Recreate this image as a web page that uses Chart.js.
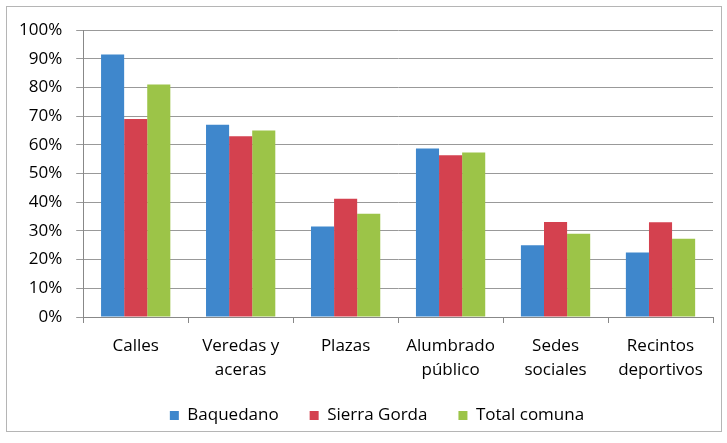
<!DOCTYPE html>
<html>
<head>
<meta charset="utf-8">
<script src="https://cdn.jsdelivr.net/npm/chart.js@4"></script>
<style>
  body { margin: 0; background: #fff; }
  #wrap { position: absolute; left: 0; top: 0; width: 727px; height: 443px; }
  #frame {
    position: absolute; left: 6px; top: 6px;
    width: 714px; height: 424px;
    border: 1px solid #b5b5b5; pointer-events: none;
  }
</style>
</head>
<body>
<div id="wrap"><canvas id="myChart"></canvas></div>
<div id="frame"></div>
<script>
// values (%)
let categories = ['Calles', ['Veredas y', 'aceras'], 'Plazas', ['Alumbrado', 'público'], ['Sedes', 'sociales'], ['Recintos', 'deportivos']];
let baquedano = [91.5, 67, 31.5, 58.7, 25, 22.5];
let sierraGorda = [69, 63, 41.2, 56.4, 33.1, 33];
let totalComuna = [81, 65, 36, 57.3, 29, 27.3];
let yTicks = [0, 10, 20, 30, 40, 50, 60, 70, 80, 90, 100];

Chart.defaults.font.family = 'Open Sans, Liberation Sans, sans-serif';
Chart.defaults.font.size = 17;
Chart.defaults.color = '#000';

// wide gaps between legend items need a big padding, so put the legend back where it belongs
const placeLegend = {
    id: 'placeLegend',
    afterLayout(chart) {
        let lg = chart.legend;
        let h = lg.bottom - lg.top;
        lg.top = 376;
        lg.bottom = lg.top + h;
        lg.left += 18;
        lg.right += 18;
    }
};

function createChart() {
    data = {
        labels: categories,
        datasets: [
            { label: 'Baquedano', data: baquedano, backgroundColor: '#3f87cc' },
            { label: 'Sierra Gorda', data: sierraGorda, backgroundColor: '#d4414f' },
            { label: 'Total comuna', data: totalComuna, backgroundColor: '#9cc448' }
        ]
    };
    config = {
        type: 'bar',
        data: data,
        plugins: [placeLegend],
        options: {
            responsive: true,
            maintainAspectRatio: false,
            animation: false,
            layout: { padding: { left: 5, right: 14, top: 30, bottom: -2 } },
            datasets: { bar: { categoryPercentage: 0.66, barPercentage: 1 } },
            plugins: {
                tooltip: { enabled: false },
                legend: {
                    position: 'bottom',
                    labels: { boxWidth: 9, boxHeight: 9, padding: 31, font: { size: 17 } }
                }
            },
            scales: {
                x: {
                    grid: { display: true, drawOnChartArea: false, color: '#888', tickLength: 6, offset: true },
                    border: { color: '#888' },
                    ticks: { padding: 11, maxRotation: 0, font: { size: 17, lineHeight: 1.4 } },
                    afterFit: function(axis) { axis.height = 70; }
                },
                y: {
                    min: 0, max: 100,
                    afterBuildTicks: function(axis) { axis.ticks = yTicks.map(v => ({ value: v })); },
                    grid: { color: '#999', tickLength: 7 },
                    border: { color: '#888' },
                    ticks: { padding: 14, callback: v => v + '%' }
                }
            }
        }
    };
    myChart = new Chart(document.getElementById('myChart'), config);
};

createChart();
</script>
</body>
</html>
